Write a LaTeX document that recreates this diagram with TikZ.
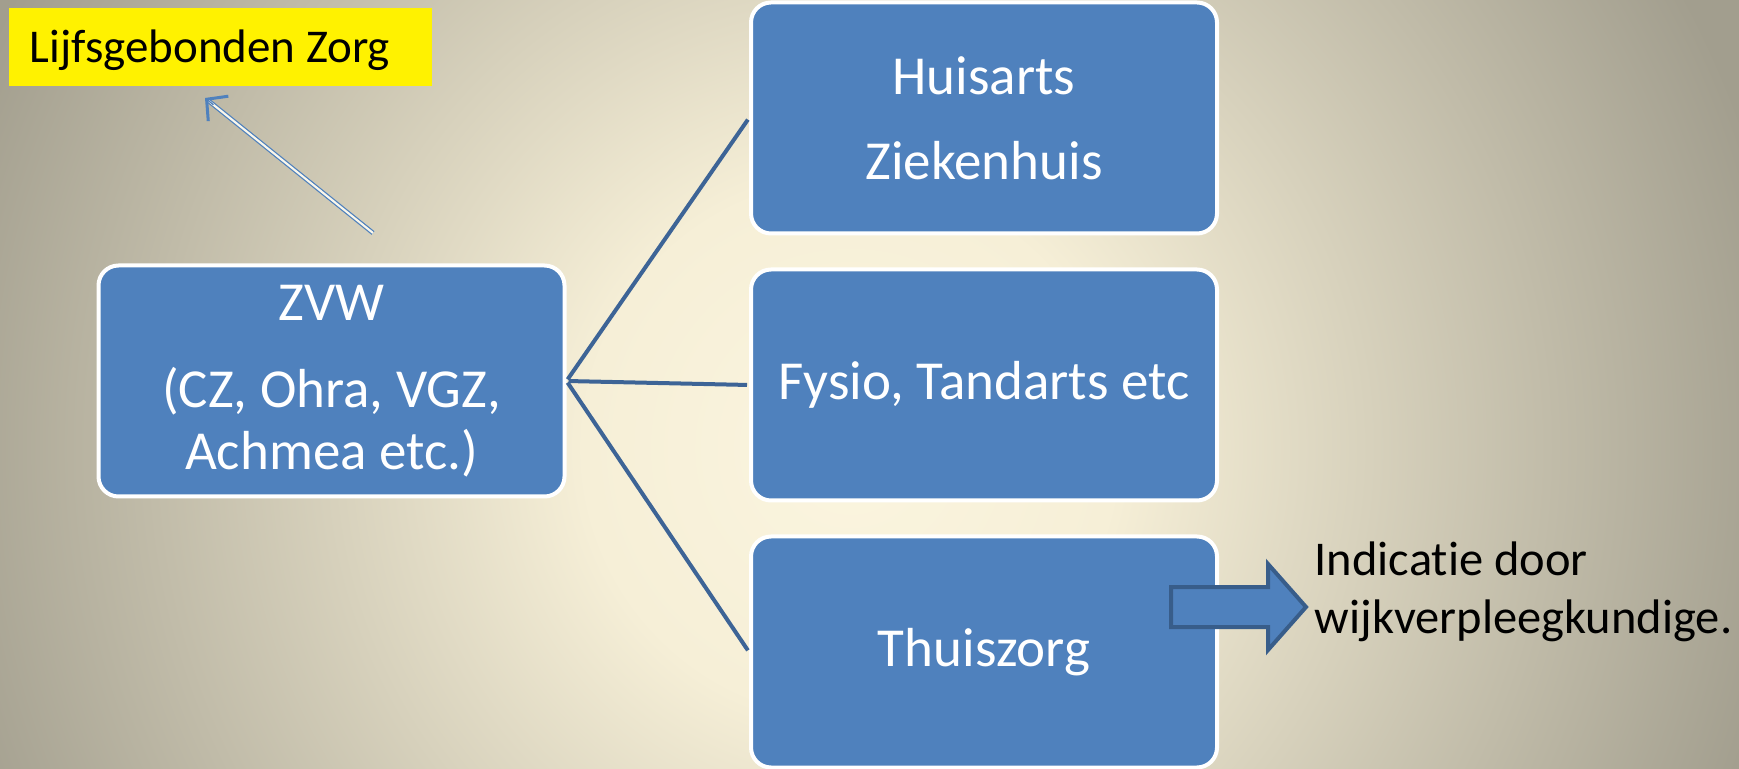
\documentclass[tikz,border=0pt]{standalone}
\usepackage{fontspec}
\setmainfont[Ligatures=NoCommon]{Carlito}
\usepackage{tikz}
\usetikzlibrary{
  positioning,
  calc,
  arrows.meta
}
\usepackage{xcolor}
\definecolor{zorgblue}{HTML}{4F81BD}
\definecolor{linkblue}{HTML}{3D6496}
\definecolor{arrowedge}{HTML}{385D8A}
\definecolor{bgcenter}{HTML}{FBF5DF}
\definecolor{bgmid}{HTML}{F6EFD7}
\definecolor{bgedge}{HTML}{A29E8E}
\pgfdeclareradialshading{slidebg}{\pgfpoint{0bp}{0bp}}{color(0bp)=(bgcenter); color(7bp)=(bgmid); color(25bp)=(bgedge); color(50bp)=(bgedge)}
\newcommand{\boxfont}{\fontsize{15.65}{17.64}\selectfont}
\newcommand{\lzfont}{\fontsize{13.37}{16.5}\selectfont}
\newcommand{\notefont}{\fontsize{13.8}{16.5}\selectfont}

\begin{document}
\begin{tikzpicture}[
    zorgbox/.style={draw=white, line width=0.04cm, fill=zorgblue, rounded corners=0.2cm,
      minimum width=4.66cm, minimum height=2.31cm, align=center, text=white, font=\boxfont},
    linkline/.style={draw=linkblue, line width=0.04cm, shorten <=0.02cm, shorten >=0.02cm},
    lzlabel/.style={fill=yellow, text width=3.81cm, align=flush left, inner xsep=0.21cm, inner ysep=0pt,
      text height=0.55cm, text depth=0.23cm, font=\lzfont},
    lzshaft/.style={draw=zorgblue, line width=0.35pt, double=bgmid!50!white, double distance=0.6pt, shorten >=0.03cm},
    lzhead/.style={draw=zorgblue, line width=0.35pt, -{Straight Barb[length=0.15cm,width=0.32cm,line width=0.03cm]}},
    blockarrow/.style={draw=arrowedge, fill=zorgblue, line width=0.04cm, line join=miter},
    notetext/.style={align=flush left, inner sep=0pt, font=\notefont}
  ]
        \useasboundingbox (0,0) rectangle (17.39,7.68);
        \begin{scope}
            \clip (0,0) rectangle (17.39,7.68);
            \fill[bgedge] (0,0) rectangle (17.39,7.68);
            \shade[shading=slidebg] (8.5,3.2) circle (9.5);
        \end{scope}

        \node[lzlabel, anchor=north west] (lijfs) at (0.08,7.61) {Lijfsgebonden Zorg};

        \node[zorgbox] (zvw) at (3.315,3.87) {ZVW\\[0.25cm](CZ, Ohra, VGZ,\\Achmea etc.)};
        \node[zorgbox] (huisarts) at (9.84,6.50) {Huisarts\\[0.23cm]Ziekenhuis};
        \node[zorgbox] (fysio) at (9.84,3.83) {Fysio, Tandarts etc};
        \node[zorgbox] (thuiszorg) at (9.84,1.16) {Thuiszorg};

        \draw[linkline] (zvw.east) -- (huisarts.west);
        \draw[linkline] (zvw.east) -- (fysio.west);
        \draw[linkline] (zvw.east) -- (thuiszorg.west);

        \coordinate (lzTail) at (3.73,5.35);
        \coordinate (lzTip) at (2.05,6.70);
        \draw[lzshaft] (lzTail) -- (lzTip);
        \draw[lzhead] ($(lzTip)!0.05!(lzTail)$) -- (lzTip);

        \draw[blockarrow] (11.71,1.81) -- (12.68,1.81) -- (12.68,2.04) -- (13.06,1.61)
            -- (12.68,1.18) -- (12.68,1.41) -- (11.71,1.41) -- cycle;
        \node[notetext, anchor=base west] (indicatie) at (13.14,1.35) {Indicatie door\\wijkverpleegkundige.};
    \end{tikzpicture}
\end{document}
